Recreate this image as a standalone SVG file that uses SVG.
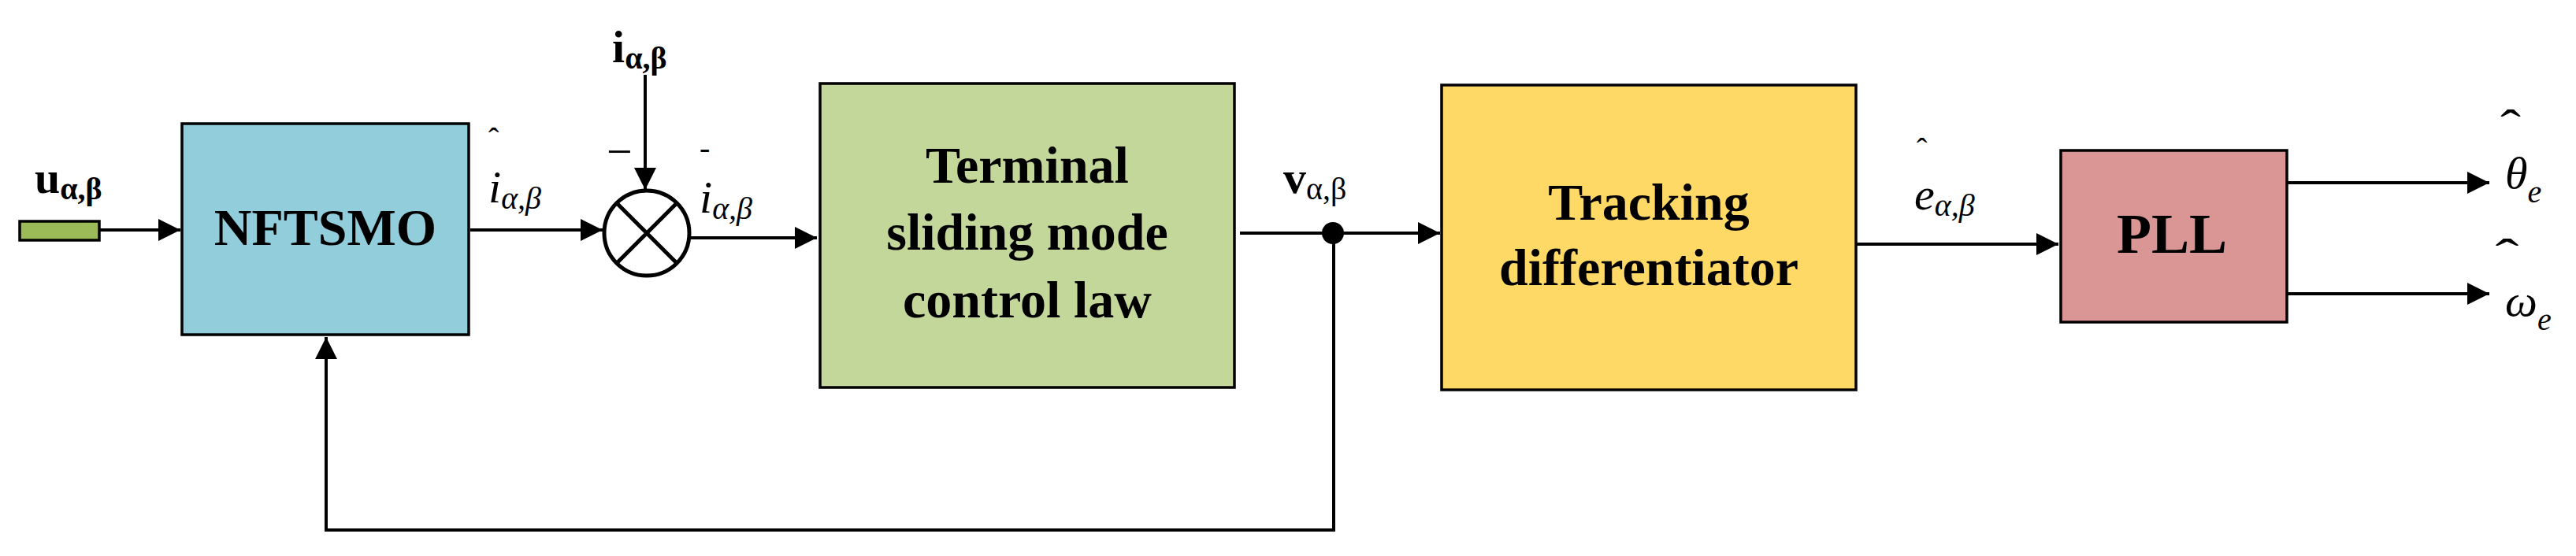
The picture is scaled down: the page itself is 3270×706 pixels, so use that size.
<svg xmlns="http://www.w3.org/2000/svg" width="3270" height="706" viewBox="0 0 3270 706">
<style>
.box{stroke:#000;stroke-width:3.5}
.bt{font-family:"Liberation Serif",serif;font-weight:bold;font-size:66px;text-anchor:middle}
.m{font-family:"Liberation Serif",serif;font-style:italic;font-size:58px}
.ms{font-family:"Liberation Serif",serif;font-style:italic;font-size:40px}
.b{font-family:"Liberation Serif",serif;font-weight:bold;font-size:58px}
.bs{font-family:"Liberation Serif",serif;font-weight:bold;font-size:40px}
.ln{stroke:#000;stroke-width:4;fill:none}
</style>
<defs>
<marker id="ah" markerUnits="userSpaceOnUse" markerWidth="30" markerHeight="30" refX="28" refY="14" orient="auto">
<path d="M0,0 L28,14 L0,28 Z" fill="#000"/>
</marker>
</defs>
<rect id="input" x="25" y="281" width="101" height="24" fill="#9bbb59" class="box"/>
<g id="nftsmo"><rect x="231" y="157" width="364" height="268" fill="#92cddc" class="box"/><text x="413" y="311" class="bt">NFTSMO</text></g>
<g id="sum"><circle cx="821" cy="296" r="54" fill="#fff" stroke="#000" stroke-width="5"/><path d="M783,258 L859,334 M859,258 L783,334" stroke="#000" stroke-width="5"/></g>
<g id="tsmc"><rect x="1041" y="106" width="526" height="386" fill="#c4d79b" class="box"/><text x="1304" y="232" class="bt">Terminal</text><text x="1304" y="317" class="bt">sliding mode</text><text x="1304" y="403" class="bt">control law</text></g>
<g id="td"><rect x="1830" y="108" width="526" height="387" fill="#ffd966" class="box"/><text x="2093" y="279" class="bt">Tracking</text><text x="2093" y="362" class="bt">differentiator</text></g>
<g id="pll"><rect x="2616" y="191" width="287" height="218" fill="#da9694" class="box"/><text x="2757" y="321" class="bt" style="font-size:72px">PLL</text></g>
<g id="connectors">
<line x1="126" y1="292" x2="229" y2="292" class="ln" marker-end="url(#ah)"/>
<line x1="597" y1="292" x2="765" y2="292" class="ln" marker-end="url(#ah)"/>
<line x1="819" y1="95" x2="819" y2="241" class="ln" marker-end="url(#ah)"/>
<line x1="876" y1="302" x2="1037" y2="302" class="ln" marker-end="url(#ah)"/>
<line x1="1574" y1="296" x2="1828" y2="296" class="ln" marker-end="url(#ah)"/>
<circle cx="1692" cy="296" r="14" fill="#000"/>
<polyline points="1693,296 1693,673 414,673 414,428" class="ln" marker-end="url(#ah)"/>
<line x1="2357" y1="310" x2="2613" y2="310" class="ln" marker-end="url(#ah)"/>
<line x1="2904" y1="232" x2="3160" y2="232" class="ln" marker-end="url(#ah)"/>
<line x1="2904" y1="373" x2="3160" y2="373" class="ln" marker-end="url(#ah)"/>
</g>
<g id="labels">
<text x="44" y="245" class="b">u<tspan class="bs" dy="8">α,β</tspan></text>
<text x="777" y="79" class="b">i<tspan class="bs" dy="8">α,β</tspan></text>
<text x="620" y="190" class="m" style="font-size:40px;font-style:normal">ˆ</text>
<text x="620" y="257" class="m">i<tspan class="ms" dy="8">α,β</tspan></text>
<text x="770" y="212" class="m" style="font-style:normal">−</text>
<text x="888" y="201" class="m" style="font-style:normal;font-size:40px">-</text>
<text x="888" y="270" class="m">i<tspan class="ms" dy="8">α,β</tspan></text>
<text x="1629" y="245" class="b">v<tspan class="bs" dy="8" style="font-weight:normal">α,β</tspan></text>
<text x="2433" y="203" class="m" style="font-size:40px;font-style:normal">ˆ</text>
<text x="2430" y="266" class="m">e<tspan class="ms" dy="8">α,β</tspan></text>
<text x="3180" y="180" class="m" style="font-style:normal;font-size:60px" transform="translate(3200,0) scale(1.3,1) translate(-3200,0)">ˆ</text>
<text x="3180" y="239" class="m">θ<tspan class="ms" dy="18">e</tspan></text>
<text x="3180" y="344" class="m" style="font-style:normal;font-size:60px" transform="translate(3205,0) scale(1.5,1) translate(-3205,0)">ˆ</text>
<text x="3180" y="401" class="m">ω<tspan class="ms" dy="18">e</tspan></text>
</g>
</svg>
